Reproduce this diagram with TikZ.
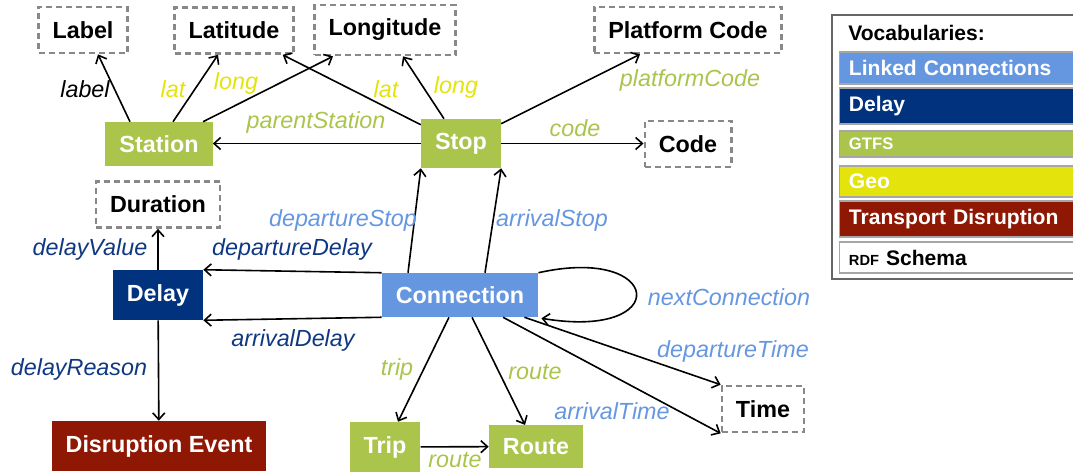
\documentclass[tikz,border=0pt]{standalone}
\usepackage{fontspec}
\setmainfont{Liberation Sans}
\usetikzlibrary{calc,arrows.meta}

\definecolor{lcblue}{RGB}{101,151,224}
\definecolor{delayblue}{RGB}{0,50,125}
\definecolor{delaytext}{RGB}{16,56,130}
\definecolor{gtfsgreen}{RGB}{170,196,76}
\definecolor{geoyellow}{RGB}{228,228,12}
\definecolor{disrred}{RGB}{143,24,4}
\definecolor{litgray}{RGB}{136,136,136}

\newcommand{\nodefont}{\fontsize{17.5}{20}\selectfont}
\newcommand{\legfont}{\fontsize{15.8}{18}\selectfont}

\tikzset{
  cls/.style={font=\nodefont\bfseries, text=white, inner xsep=10.5pt, minimum height=33pt},
  lit/.style={draw=litgray, line width=2pt, dash pattern=on 4.5pt off 3pt,
    font=\nodefont\bfseries, inner xsep=10.5pt, minimum height=34.5pt},
  prop/.style={font=\nodefont\itshape, inner sep=0pt},
  rel/.style={->, line width=1.2pt},
  legrow/.style={anchor=west, draw=gray!70, line width=0.9pt, font=\legfont\bfseries,
    text=white, text width=163pt, inner xsep=7pt, align=left},
  >={Straight Barb[length=5pt,width=9pt]}
}

\begin{document}
\begin{tikzpicture}[x=0.75pt, y=-0.75pt]
\useasboundingbox (0,0) rectangle (1073,472);
\clip (0,0) rectangle (1073,472);

% classes
\node[cls, fill=gtfsgreen] (station) at (159,144) {Station};
\node[cls, fill=gtfsgreen, minimum height=36.75pt] (stop) at (461,143.5) {Stop};
\node[cls, fill=lcblue] (conn) at (460,295) {Connection};
\node[cls, fill=delayblue, minimum height=37.5pt] (delay) at (158,295) {Delay};
\node[cls, fill=disrred, minimum height=37.5pt] (disr) at (159,446) {Disruption Event};
\node[cls, fill=gtfsgreen, minimum height=37.5pt] (trip) at (385,447) {Trip};
\node[cls, fill=gtfsgreen, minimum height=32pt] (route) at (536,446.5) {Route};

% literals
\node[lit] (label) at (83,30) {Label};
\node[lit] (lat) at (234,30.5) {Latitude};
\node[lit, minimum height=37.5pt] (long) at (385,30) {Longitude};
\node[lit] (platform) at (688,30) {Platform Code};
\node[lit] (code) at (688,144) {Code};
\node[lit] (duration) at (158,204.5) {Duration};
\node[lit] (time) at (763,409) {Time};

% properties
\draw[rel] ($(station.north)+(-29,0)$) -- ($(label.south)+(15,0)$);
\draw[rel] ($(station.north)+(14,0)$) -- ($(lat.south)+(-16,0)$);
\draw[rel] ($(station.north)+(44,0)$) -- ($(long.south)+(-52,0)$);
\draw[rel] ($(stop.north west)+(0,6)$) -- ($(lat.south east)+(-12,0)$);
\draw[rel] ($(stop.north)+(-17,0)$) -- ($(long.south)+(18,0)$);
\draw[rel] ($(stop.north east)+(0,5)$) -- ($(platform.south)+(-48,0)$);
\draw[rel] (stop.west) -- (stop.west -| station.east);
\draw[rel] (stop.east) -- (stop.east -| code.west);
\draw[rel] ($(conn.north)+(-52,0)$) -- (stop.south west);
\draw[rel] ($(conn.north)+(25,0)$) -- (stop.south east);
\draw[rel] (conn.north west) -- (delay.north east);
\draw[rel] (conn.south west) -- (delay.south east);
\draw[rel] (delay) -- (duration);
\draw[rel] (delay) -- (disr);
\draw[rel] ($(conn.south)+(-11,0)$) -- ($(trip.north)+(13,0)$);
\draw[rel] ($(conn.south)+(12,0)$) -- ($(route.north)+(-11,0)$);
\draw[rel] ($(conn.south east)+(-14,0)$) -- (time.north west);
\draw[rel] ($(conn.south)+(43,0)$) -- (time.south west);
\draw[rel] (conn.north east) .. controls +(125,-28) and +(132,22) .. ($(conn.south east)+(3,1)$);
\draw[rel] (trip) -- (route);

\node[prop] (pLabel) at (85,89) {label};
\node[prop, text=geoyellow] (pLat1) at (173,89) {lat};
\node[prop, text=geoyellow] (pLong1) at (236,83) {long};
\node[prop, text=gtfsgreen] (pParent) at (316,122) {parentStation};
\node[prop, text=geoyellow] (pLat2) at (386,89) {lat};
\node[prop, text=geoyellow] (pLong2) at (456,87) {long};
\node[prop, text=gtfsgreen] (pPlatform) at (690,80) {platformCode};
\node[prop, text=gtfsgreen] (pCode) at (575,128) {code};
\node[prop, text=lcblue] (pDepStop) at (343,220) {departureStop};
\node[prop, text=lcblue] (pArrStop) at (552,220) {arrivalStop};
\node[prop, text=delaytext] (pDepDelay) at (292,249) {departureDelay};
\node[prop, text=delaytext] (pArrDelay) at (293,340) {arrivalDelay};
\node[prop, text=delaytext] (pValue) at (90,249) {delayValue};
\node[prop, text=delaytext] (pReason) at (79,369) {delayReason};
\node[prop, text=gtfsgreen] (pTrip) at (397,369) {trip};
\node[prop, text=gtfsgreen] (pRoute1) at (535,372) {route};
\node[prop, text=lcblue] (pNext) at (729,297) {nextConnection};
\node[prop, text=lcblue] (pDepTime) at (733,351) {departureTime};
\node[prop, text=lcblue] (pArrTime) at (612,411) {arrivalTime};
\node[prop, text=gtfsgreen] (pRoute2) at (455,460) {route};

% legend
\draw[gray!80!black, line width=0.8pt] (1076,15) -| (832,279) -- (1076,279);
\node[anchor=west, font=\legfont\bfseries, inner sep=0pt] (legTitle) at (848,33) {Vocabularies:};
\node[legrow, fill=lcblue, minimum height=24pt] (legLC) at (839,68) {Linked Connections};
\node[legrow, fill=delayblue, minimum height=27pt] (legDelay) at (839,106) {Delay};
\node[legrow, fill=gtfsgreen, minimum height=19.5pt] (legGTFS) at (839,144) {\fontsize{12.5}{13}\selectfont GTFS};
\node[legrow, fill=geoyellow, minimum height=23.25pt] (legGeo) at (839,181.5) {Geo};
\node[legrow, fill=disrred, minimum height=27pt] (legTD) at (839,219) {Transport Disruption};
\node[legrow, fill=white, text=black, minimum height=23.25pt] (legRDF) at (839,257.5) {{\fontsize{11}{12}\selectfont RDF} Schema};
\end{tikzpicture}
\end{document}
